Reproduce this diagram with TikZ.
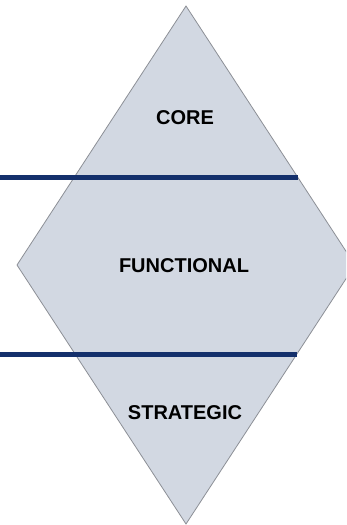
\documentclass[tikz,border=0pt]{standalone}
\usepackage{fontspec}
\setmainfont{Liberation Sans}
\definecolor{tierfill}{HTML}{D2D8E2}
\definecolor{tieredge}{HTML}{8C8F96}
\definecolor{tierline}{HTML}{14306C}
\tikzset{
  tierlabel/.style={font=\fontsize{20}{22}\selectfont\bfseries, text=black},
  tierbar/.style={draw=tierline, line width=4.5pt}
}
\begin{document}
\begin{tikzpicture}[x=1pt, y=-1pt]
\useasboundingbox (0,0) rectangle (346,525);
\clip (0,0) rectangle (346,525);

% Diamond
\draw[fill=tierfill, draw=tieredge, line width=0.8pt]
  (186,6) -- (355,265) -- (186,524) -- (17,265) -- cycle;

% Levels
\node[tierlabel] (core) at (185,118) {CORE};
\node[tierlabel] (functional) at (184,266) {FUNCTIONAL};
\node[tierlabel] (strategic) at (185,413) {STRATEGIC};

% Dividers
\coordinate (barA) at (0,177.5);
\coordinate (barAend) at (298,177.5);
\coordinate (barB) at (0,354.5);
\coordinate (barBend) at (297,354.5);
\draw[tierbar] (barA) -- (barAend);
\draw[tierbar] (barB) -- (barBend);
\end{tikzpicture}
\end{document}
